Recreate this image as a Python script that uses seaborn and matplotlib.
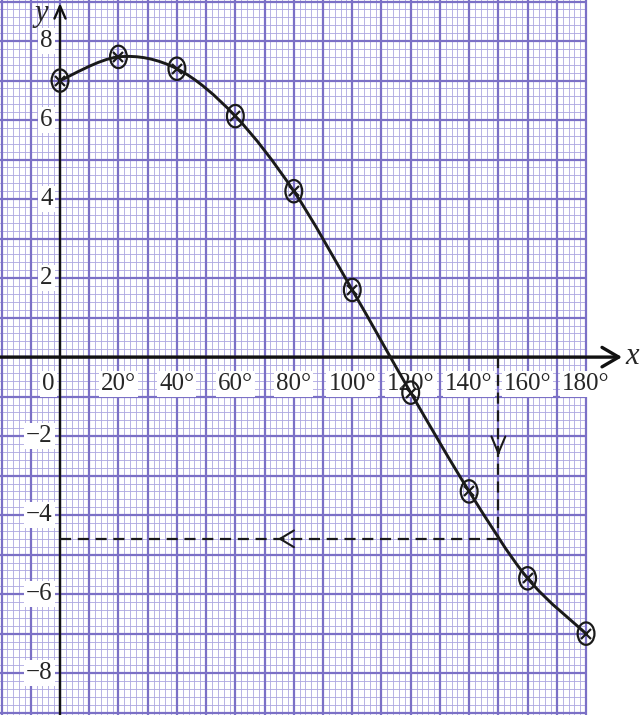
import numpy as np
import matplotlib
matplotlib.use('Agg')
import matplotlib.pyplot as plt
import seaborn as sns
from matplotlib.path import Path
from matplotlib.patches import PathPatch
from matplotlib.transforms import Affine2D

# values
angles = [0, 20, 40, 60, 80, 100, 120, 140, 160, 180]
y_values = [7.0, 7.6, 7.3, 6.1, 4.2, 1.7, -0.9, -3.4, -5.6, -7.0]
x_tick_pos = [-4, 20, 40, 60, 80, 100, 120, 140, 160, 180]
x_tick_labels = ['0', '20°', '40°', '60°', '80°', '100°', '120°', '140°', '160°', '180°']
y_tick_pos = [8, 6, 4, 2, -2, -4, -6, -8]
y_tick_labels = ['8', '6', '4', '2', '−2', '−4', '−6', '−8']
read_x = 150
read_y = -4.6

sns.set_theme(style='white')
plt.rcParams['font.family'] = ['Liberation Serif', 'DejaVu Serif']

fig = plt.figure(figsize=(6.41, 7.15), dpi=100)
ax = fig.add_axes([0, 0, 1, 1])
ax.set_xlim(-20.53, 198.8)
ax.set_ylim(-9.06, 9.04)
ax.axis('off')

# graph paper
minor_col = '#aca6e0'
major_col = '#7b70c6'
ax.vlines(np.arange(-20, 181, 2), -9.2, 9.2, colors=minor_col, lw=0.6, zorder=0)
ax.hlines(np.arange(-9.2, 9.21, 0.2), -21, 180, colors=minor_col, lw=0.6, zorder=0)
ax.vlines(np.arange(-20, 181, 10), -9.2, 9.2, colors=major_col, lw=1.6, zorder=1)
ax.hlines(np.arange(-9, 9.1, 1), -21, 180, colors=major_col, lw=1.6, zorder=1)

# axes with arrows
ax.annotate('', xy=(192.3, 0), xytext=(-21, 0),
            arrowprops=dict(arrowstyle='->,head_length=0.6,head_width=0.35',
                            lw=2.4, color='#111111', shrinkA=0, shrinkB=0,
                            mutation_scale=20), zorder=4)
ax.annotate('', xy=(0, 8.96), xytext=(0, -9.2),
            arrowprops=dict(arrowstyle='->,head_length=0.45,head_width=0.2',
                            lw=1.7, color='#111111', shrinkA=0, shrinkB=0,
                            mutation_scale=20), zorder=4)
ax.text(195.8, 0.02, 'x', fontsize=22, style='italic', ha='center', va='center')
ax.text(-6.3, 8.7, 'y', fontsize=22, style='italic', ha='center', va='center')

# tick labels on white patches
box = dict(fc='white', ec='none', pad=1.5)
for xp, lab in zip(x_tick_pos, x_tick_labels):
    ax.text(xp, -0.68, lab, fontsize=18, ha='center', va='center', bbox=box, zorder=2)
for yp, lab in zip(y_tick_pos, y_tick_labels):
    ax.text(-2.5, yp, lab, fontsize=18, ha='right', va='center', bbox=box, zorder=2)

# smooth curve through the points (Catmull-Rom as cubic Bezier segments)
pts = np.column_stack([angles, y_values])
ext = np.vstack([pts[0], pts, pts[-1]])
verts = [pts[0]]
codes = [Path.MOVETO]
for i in range(1, len(ext) - 2):
    p0, p1, p2, p3 = ext[i - 1], ext[i], ext[i + 1], ext[i + 2]
    verts += [p1 + (p2 - p0) / 6, p2 - (p3 - p1) / 6, p2]
    codes += [Path.CURVE4] * 3
ax.add_patch(PathPatch(Path(verts, codes), fill=False, lw=2.1,
                       edgecolor='#1a1a1a', zorder=5))

# circled crosses (ellipse shaped as in the reference)
ellipse = Path.unit_circle().transformed(Affine2D().scale(0.75, 1.0))
sns.scatterplot(x=angles, y=y_values, marker=ellipse, s=260, facecolor='none',
                edgecolor='#1a1a1a', linewidth=1.6, ax=ax, zorder=6)
ax.plot(angles, y_values, 'x', ms=7.5, mew=1.6, color='#1a1a1a', zorder=6)

# reading lines
ax.plot([read_x, read_x], [0, read_y], color='#1a1a1a', lw=1.6, dashes=(5, 3), zorder=4)
ax.plot([0, read_x], [read_y, read_y], color='#1a1a1a', lw=1.6, dashes=(5, 3), zorder=4)
ax.annotate('', xy=(read_x, -2.5), xytext=(read_x, -2.4),
            arrowprops=dict(arrowstyle='->,head_length=0.6,head_width=0.25',
                            lw=1.5, color='#1a1a1a', shrinkA=0, shrinkB=0,
                            mutation_scale=20), zorder=4)
ax.annotate('', xy=(74.6, read_y), xytext=(76, read_y),
            arrowprops=dict(arrowstyle='->,head_length=0.5,head_width=0.3',
                            lw=1.5, color='#1a1a1a', shrinkA=0, shrinkB=0,
                            mutation_scale=20), zorder=4)

fig.savefig('out.png', dpi=100, facecolor='white')
